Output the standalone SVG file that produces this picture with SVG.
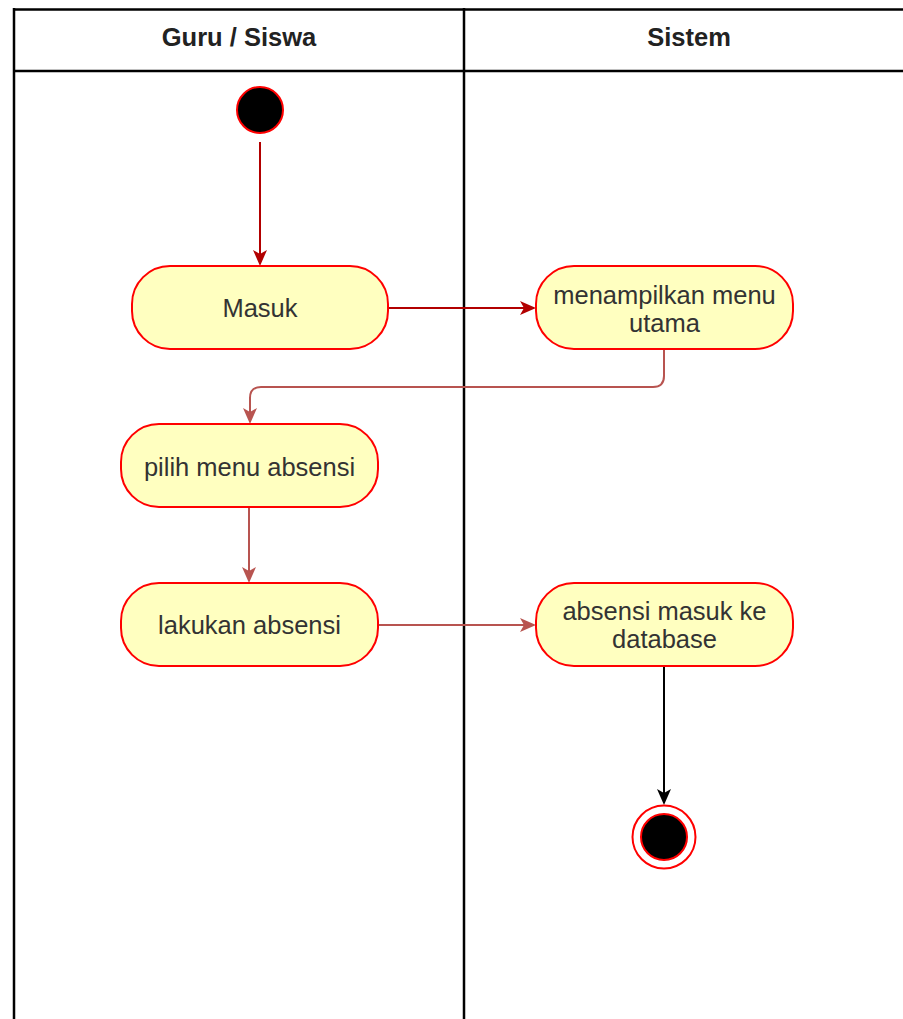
<svg xmlns="http://www.w3.org/2000/svg" width="903" height="1019" viewBox="0 0 903 1019">
<style>
.lane{fill:none;stroke:#000;stroke-width:2.5}
.hdr{font-family:"Liberation Sans",Arial,sans-serif;font-weight:bold;font-size:25.5px;fill:#222;text-anchor:middle}
.act{fill:#ffffc0;stroke:#ff0000;stroke-width:2}
.lbl{font-family:"Liberation Sans",Arial,sans-serif;font-size:25.5px;fill:#333;text-anchor:middle}
.c1{fill:none;stroke:#b20000;stroke-width:2}
.c2{fill:none;stroke:#b85450;stroke-width:2}
.c3{fill:none;stroke:#000;stroke-width:2}
</style>
<defs>
<marker id="a1" markerWidth="16" markerHeight="16" refX="14" refY="8" orient="auto" markerUnits="userSpaceOnUse"><path d="M0,1 L16,8 L0,15 L4,8 Z" fill="#b20000"/></marker>
<marker id="a2" markerWidth="16" markerHeight="16" refX="14" refY="8" orient="auto" markerUnits="userSpaceOnUse"><path d="M0,1 L16,8 L0,15 L4,8 Z" fill="#b85450"/></marker>
<marker id="a3" markerWidth="16" markerHeight="16" refX="14" refY="8" orient="auto" markerUnits="userSpaceOnUse"><path d="M0,1 L16,8 L0,15 L4,8 Z" fill="#000"/></marker>
</defs>
<rect width="903" height="1019" fill="#fff"/>
<g id="swimlanes">
<line class="lane" x1="14" y1="9.5" x2="903" y2="9.5" stroke-width="3"/>
<line class="lane" x1="14" y1="71" x2="903" y2="71"/>
<line class="lane" x1="14" y1="8" x2="14" y2="1019"/>
<line class="lane" x1="464" y1="8" x2="464" y2="1019"/>
<text class="hdr" x="239" y="46">Guru / Siswa</text>
<text class="hdr" x="689" y="46">Sistem</text>
</g>
<g id="connectors">
<path class="c1" d="M260,142 L260,264" marker-end="url(#a1)"/>
<path class="c1" d="M388,308 L534,308" marker-end="url(#a1)"/>
<path class="c2" d="M664,349 L664,376 Q664,387 653,387 L261,387 Q250,387 250,398 L250,422" marker-end="url(#a2)"/>
<path class="c2" d="M249,508 L249,581" marker-end="url(#a2)"/>
<path class="c2" d="M378,625 L534,625" marker-end="url(#a2)"/>
<path class="c3" d="M664,666 L664,803" marker-end="url(#a3)"/>
</g>
<g id="start"><circle cx="260" cy="110" r="23" fill="#000" stroke="#ff0000" stroke-width="2"/></g>
<g id="masuk"><rect class="act" x="132" y="266" width="256" height="83" rx="38" ry="38"/><text class="lbl" x="260" y="317">Masuk</text></g>
<g id="menu-utama"><rect class="act" x="536" y="266" width="257" height="83" rx="38" ry="38"/><text class="lbl" x="664.5" y="304">menampilkan menu</text><text class="lbl" x="664.5" y="332">utama</text></g>
<g id="pilih-menu"><rect class="act" x="121" y="424" width="257" height="83" rx="38" ry="38"/><text class="lbl" x="249.5" y="476">pilih menu absensi</text></g>
<g id="lakukan"><rect class="act" x="121" y="583" width="257" height="83" rx="38" ry="38"/><text class="lbl" x="249.5" y="634">lakukan absensi</text></g>
<g id="database"><rect class="act" x="536" y="583" width="257" height="83" rx="38" ry="38"/><text class="lbl" x="664.5" y="620">absensi masuk ke</text><text class="lbl" x="664.5" y="648">database</text></g>
<g id="end"><circle cx="664" cy="837" r="31.5" fill="none" stroke="#ff0000" stroke-width="2"/><circle cx="664" cy="837" r="23" fill="#000" stroke="#ff0000" stroke-width="2"/></g>
</svg>
